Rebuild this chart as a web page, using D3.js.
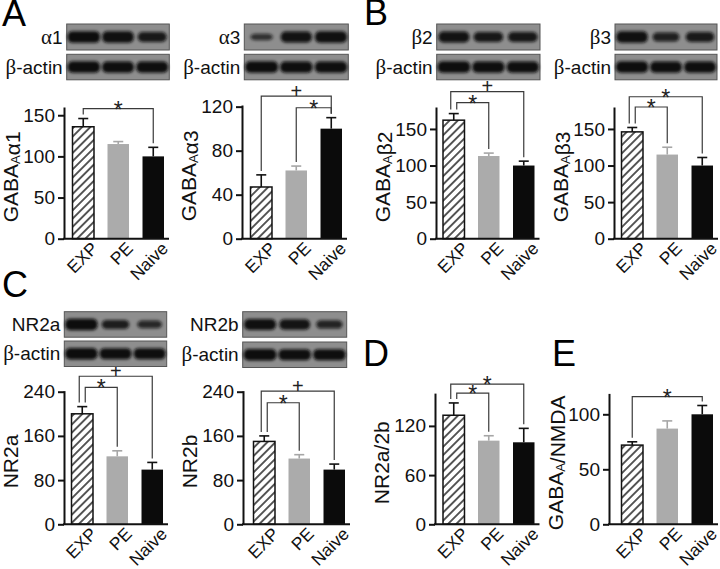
<!DOCTYPE html>
<html>
<head>
<meta charset="utf-8">
<script src="https://cdn.jsdelivr.net/npm/d3@7"></script>
<style>
  body { margin: 0; background: #fff; }
  svg { font-family: "Liberation Sans", Arial, sans-serif; }
</style>
</head>
<body>
<div id="viz"></div>
<script>
// groups shown in every bar chart
const groups = ['EXP', 'PE', 'Naive']

// mean (% of naive) and SEM
const alpha1Mean = [136, 115, 100]
const alpha1Sem = [10, 3, 11]
const alpha3Mean = [47, 62, 100]
const alpha3Sem = [11, 4, 10]
const beta2Mean = [162, 113, 100]
const beta2Sem = [9, 4, 6]
const beta3Mean = [146, 115, 100]
const beta3Sem = [6, 10, 11]
const nr2aMean = [200, 123, 99]
const nr2aSem = [13, 10, 13]
const nr2bMean = [150, 119, 99]
const nr2bSem = [10, 7, 10]
const ratioMean = [133, 102, 100]
const ratioSem = [15, 6, 17]
const gabaNmdaMean = [72, 87, 100]
const gabaNmdaSem = [3, 7, 8]

// tick labels
const ticks150 = [0, 50, 100, 150]
const ticks120 = [0, 40, 80, 120]
const ticks240 = [0, 80, 160, 240]
const ticks120b = [0, 60, 120]
const ticks100 = [0, 50, 100]

// significance brackets: from group a to group b, drawn at value lv
const alpha1Sig = [{ a: 0, b: 2, lv: 158, s: '*' }]
const alpha3Sig = [{ a: 0, b: 2, lv: 129.5, s: '+' }, { a: 1, b: 2, lv: 119, s: '*' }]
const beta2Sig = [{ a: 0, b: 2, lv: 201, s: '+' }, { a: 0, b: 1, lv: 186, s: '*' }]
const beta3Sig = [{ a: 0, b: 2, lv: 194, s: '*' }, { a: 0, b: 1, lv: 180, s: '*' }]
const nr2aSig = [{ a: 0, b: 2, lv: 268, s: '+' }, { a: 0, b: 1, lv: 248, s: '*' }]
const nr2bSig = [{ a: 0, b: 2, lv: 241, s: '+' }, { a: 0, b: 1, lv: 220, s: '*' }]
const ratioSig = [{ a: 0, b: 2, lv: 171, s: '*' }, { a: 0, b: 1, lv: 160, s: '*' }]
const gabaNmdaSig = [{ a: 0, b: 2, lv: 116, s: '*' }]

// relative band strength on the western blots (lanes EXP, PE, Naive)
const alpha1Bands = [1, 0.95, 0.8]
const alpha3Bands = [0.4, 0.9, 0.95]
const beta2Bands = [0.9, 0.82, 0.82]
const beta3Bands = [0.95, 0.68, 0.78]
const nr2aBands = [1, 0.72, 0.55]
const nr2bBands = [0.95, 0.88, 0.62]
const actinBands = [1, 0.97, 0.97]

const svg = d3.select('#viz').append('svg')
  .attr('width', 720)
  .attr('height', 569)

const defs = svg.append('defs')
const hatch = defs.append('pattern')
  .attr('id', 'hatch')
  .attr('patternUnits', 'userSpaceOnUse')
  .attr('width', 5.8)
  .attr('height', 5.8)
  .attr('patternTransform', 'rotate(45)')
hatch.append('rect').attr('width', 5.8).attr('height', 5.8).attr('fill', '#fff')
hatch.append('line')
  .attr('x1', 2.9).attr('y1', 0).attr('x2', 2.9).attr('y2', 5.8)
  .attr('stroke', '#111').attr('stroke-width', 1.4)

defs.append('filter')
  .attr('id', 'blur')
  .attr('x', '-30%').attr('y', '-80%').attr('width', '160%').attr('height', '260%')
  .append('feGaussianBlur').attr('stdDeviation', 1.5)

const barFill = ['url(#hatch)', '#ababab', '#0b0b0b']
const errColor = ['#111', '#a6a6a6', '#111']

/**
 * Draws one bar chart with error bars, axes and significance brackets.
 */
function drawPanel (p) {
  const L = p.layout
  const g = svg.append('g')

  const x = d3.scaleBand()
    .domain(groups)
    .range([L.ox + L.inset, L.ox + L.inset + 91.5])
    .paddingInner(0.386)
  const y = d3.scaleLinear().domain([0, p.ymax]).range([L.base, L.top])
  const cx = i => x(groups[i]) + x.bandwidth() / 2
  const errTop = i => y(p.mean[i] + p.sem[i])

  // bars
  g.selectAll('rect.bar')
    .data(p.mean)
    .join('rect')
    .attr('class', 'bar')
    .attr('x', (d, i) => x(groups[i]))
    .attr('y', d => y(d))
    .attr('width', x.bandwidth())
    .attr('height', d => y(0) - y(d))
    .attr('fill', (d, i) => barFill[i])
    .attr('stroke', (d, i) => i === 0 ? '#111' : 'none')
    .attr('stroke-width', 1.5)

  // error bars
  p.mean.forEach((m, i) => {
    g.append('line')
      .attr('x1', cx(i)).attr('x2', cx(i))
      .attr('y1', y(m)).attr('y2', errTop(i))
      .attr('stroke', errColor[i]).attr('stroke-width', 1.6)
    g.append('line')
      .attr('x1', cx(i) - 5).attr('x2', cx(i) + 5)
      .attr('y1', errTop(i)).attr('y2', errTop(i))
      .attr('stroke', errColor[i]).attr('stroke-width', 1.6)
  })

  // y axis
  const ya = g.append('g')
    .attr('transform', `translate(${L.ox},0)`)
    .call(d3.axisLeft(y).tickValues(p.ticks).tickSize(6).tickSizeOuter(0).tickPadding(3))
  ya.attr('font-size', 19).attr('font-family', null)
  ya.selectAll('path, line').attr('stroke', '#111').attr('stroke-width', 2)
  ya.selectAll('text').attr('fill', '#111')

  // x axis line
  g.append('line')
    .attr('x1', L.ox - 1).attr('x2', L.ox + L.inset + 96.5)
    .attr('y1', L.base).attr('y2', L.base)
    .attr('stroke', '#111').attr('stroke-width', 2)

  // rotated group labels
  g.selectAll('text.xlab')
    .data(groups)
    .join('text')
    .attr('class', 'xlab')
    .attr('transform', (d, i) => `translate(${cx(i) + 7},${L.base + 2}) rotate(-45)`)
    .attr('text-anchor', 'end')
    .attr('dy', '0.71em')
    .attr('font-size', 17.5)
    .attr('fill', '#111')
    .text(d => d)

  // y label
  const lab = g.append('text')
    .attr('transform', `translate(${L.ox - 53},${(L.base + L.top) / 2 + 4}) rotate(-90)`)
    .attr('text-anchor', 'middle')
    .attr('dy', '0.35em')
    .attr('font-size', 21)
    .attr('fill', '#111')
  p.label.forEach(part => {
    if (part.sub) {
      lab.append('tspan').attr('font-size', 13).attr('dy', 2).text(part.sub)
      lab.append('tspan').attr('dy', -2).text('')
    } else {
      lab.append('tspan').text(part.t)
    }
  })

  // significance brackets
  p.sig.forEach(b => {
    const other = p.sig.find(o => o !== b && o.a === b.a)
    const shift = other ? (b.lv > other.lv ? -3 : 3) : 0
    const xa0 = cx(b.a) + shift
    const xb0 = cx(b.b)
    const ly = y(b.lv)
    g.append('path')
      .attr('d', `M${xa0},${errTop(b.a) - 4}V${ly}H${xb0}V${errTop(b.b) - 4}`)
      .attr('fill', 'none')
      .attr('stroke', '#3a3a3a')
      .attr('stroke-width', 1.2)
    g.append('text')
      .attr('x', (xa0 + xb0) / 2)
      .attr('y', ly + (b.s === '*' ? 9 : 1.5))
      .attr('text-anchor', 'middle')
      .attr('font-size', b.s === '*' ? 23 : 20)
      .attr('fill', '#222')
      .text(b.s)
  })
}

/**
 * Draws a western blot strip with a label on its left.
 */
function drawBlot (bl) {
  const g = svg.append('g')
  g.append('rect')
    .attr('x', bl.x).attr('y', bl.y)
    .attr('width', bl.w).attr('height', bl.h)
    .attr('fill', '#8e8e8e')
    .attr('stroke', '#555')
    .attr('stroke-width', 1)

  const lane = d3.scaleBand().domain(groups).range([bl.x, bl.x + bl.w])
  g.selectAll('rect.band')
    .data(bl.bands)
    .join('rect')
    .attr('class', 'band')
    .attr('x', (k, i) => lane(groups[i]) + lane.bandwidth() * (1 - (0.45 + 0.5 * k)) / 2)
    .attr('width', k => lane.bandwidth() * (0.45 + 0.5 * k))
    .attr('y', k => bl.y + bl.h / 2 - bl.h * (0.12 + 0.33 * k) / 2)
    .attr('height', k => bl.h * (0.12 + 0.33 * k))
    .attr('rx', 5)
    .attr('fill', '#0d0d0d')
    .attr('opacity', k => 0.55 + 0.45 * k)
    .attr('filter', 'url(#blur)')

  const t = g.append('text')
    .attr('x', bl.x - 4)
    .attr('y', bl.y + bl.h / 2)
    .attr('dy', '0.35em')
    .attr('text-anchor', 'end')
    .attr('font-size', 19)
    .attr('fill', '#111')
  bl.label.forEach(part => {
    t.append('tspan')
      .attr('font-family', part.greek ? '"Liberation Serif", "DejaVu Serif", serif' : null)
      .attr('font-size', part.greek ? 21 : null)
      .text(part.t)
  })
}

const panels = [
  { mean: alpha1Mean, sem: alpha1Sem, ticks: ticks150, ymax: 160, sig: alpha1Sig,
    label: [{ t: 'GABA' }, { sub: 'A' }, { t: 'α1' }],
    layout: { ox: 64, inset: 8.5, base: 238.7, top: 107 } },
  { mean: alpha3Mean, sem: alpha3Sem, ticks: ticks120, ymax: 121.5, sig: alpha3Sig,
    label: [{ t: 'GABA' }, { sub: 'A' }, { t: 'α3' }],
    layout: { ox: 242, inset: 8.5, base: 238.7, top: 105 } },
  { mean: beta2Mean, sem: beta2Sem, ticks: ticks150, ymax: 180, sig: beta2Sig,
    label: [{ t: 'GABA' }, { sub: 'A' }, { t: 'β2' }],
    layout: { ox: 436, inset: 7, base: 238.7, top: 107 } },
  { mean: beta3Mean, sem: beta3Sem, ticks: ticks150, ymax: 180, sig: beta3Sig,
    label: [{ t: 'GABA' }, { sub: 'A' }, { t: 'β3' }],
    layout: { ox: 614, inset: 7.5, base: 238.7, top: 107 } },
  { mean: nr2aMean, sem: nr2aSem, ticks: ticks240, ymax: 242, sig: nr2aSig,
    label: [{ t: 'NR2a' }],
    layout: { ox: 64, inset: 7.5, base: 524.3, top: 390.6 } },
  { mean: nr2bMean, sem: nr2bSem, ticks: ticks240, ymax: 242, sig: nr2bSig,
    label: [{ t: 'NR2b' }],
    layout: { ox: 243, inset: 10.5, base: 524.3, top: 390.6 } },
  { mean: ratioMean, sem: ratioSem, ticks: ticks120b, ymax: 160, sig: ratioSig,
    label: [{ t: 'NR2a/2b' }],
    layout: { ox: 435, inset: 8, base: 524.3, top: 393.1 } },
  { mean: gabaNmdaMean, sem: gabaNmdaSem, ticks: ticks100, ymax: 119, sig: gabaNmdaSig,
    label: [{ t: 'GABA' }, { sub: 'A' }, { t: '/NMDA' }],
    layout: { ox: 609, inset: 12.5, base: 524.3, top: 393.4 } }
]
panels.forEach(drawPanel)

const blots = [
  { x: 66.7, y: 24, w: 102.6, h: 26, bands: alpha1Bands, label: [{ t: 'α', greek: true }, { t: '1' }] },
  { x: 66.7, y: 54.3, w: 102.6, h: 25.5, bands: actinBands, label: [{ t: 'β', greek: true }, { t: '-actin' }] },
  { x: 244.3, y: 24, w: 104, h: 26, bands: alpha3Bands, label: [{ t: 'α', greek: true }, { t: '3' }] },
  { x: 244.3, y: 54.3, w: 104, h: 25.5, bands: actinBands, label: [{ t: 'β', greek: true }, { t: '-actin' }] },
  { x: 436.7, y: 24, w: 103.3, h: 26, bands: beta2Bands, label: [{ t: 'β', greek: true }, { t: '2' }] },
  { x: 436.7, y: 54.3, w: 103.3, h: 25.5, bands: actinBands, label: [{ t: 'β', greek: true }, { t: '-actin' }] },
  { x: 615, y: 24, w: 102, h: 26, bands: beta3Bands, label: [{ t: 'β', greek: true }, { t: '3' }] },
  { x: 615, y: 54.3, w: 102, h: 25.5, bands: actinBands, label: [{ t: 'β', greek: true }, { t: '-actin' }] },
  { x: 64.3, y: 311.7, w: 102.4, h: 25.5, bands: nr2aBands, label: [{ t: 'NR2a' }] },
  { x: 64.3, y: 341, w: 102.4, h: 25.5, bands: actinBands, label: [{ t: 'β', greek: true }, { t: '-actin' }] },
  { x: 242.7, y: 311.7, w: 104, h: 25.5, bands: nr2bBands, label: [{ t: 'NR2b' }] },
  { x: 242.7, y: 342, w: 104, h: 25.5, bands: actinBands, label: [{ t: 'β', greek: true }, { t: '-actin' }] }
]
blots.forEach(drawBlot)

// panel letters
const letters = [
  { t: 'A', x: 2, y: 26 },
  { t: 'B', x: 364, y: 25 },
  { t: 'C', x: 2, y: 297 },
  { t: 'D', x: 363, y: 366 },
  { t: 'E', x: 552, y: 366 }
]
svg.selectAll('text.letter')
  .data(letters)
  .join('text')
  .attr('class', 'letter')
  .attr('x', d => d.x)
  .attr('y', d => d.y)
  .attr('font-size', 36)
  .attr('fill', '#000')
  .text(d => d.t)
</script>
</body>
</html>
